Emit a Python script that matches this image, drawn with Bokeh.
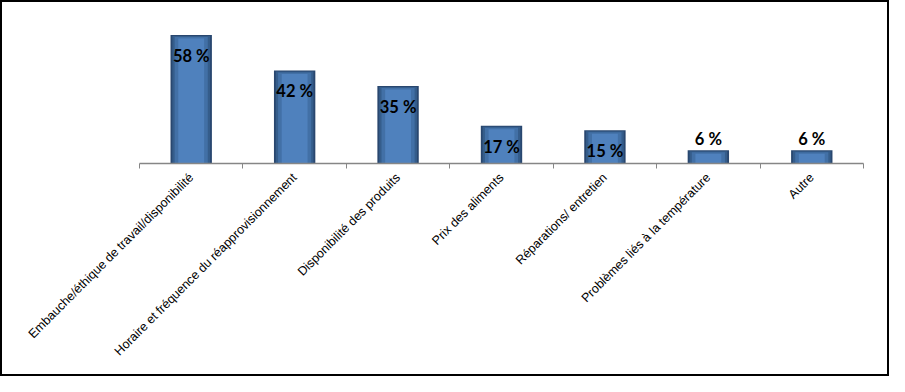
import math
from bokeh.plotting import figure
from bokeh.models import Range1d, FixedTicker, ColumnDataSource
from bokeh.core.properties import value
from bokeh.embed import file_html
from bokeh.resources import INLINE

categories = [
    "Embauche/éthique de travail/disponibilité",
    "Horaire et fréquence du réapprovisionnement",
    "Disponibilité des produits",
    "Prix des aliments",
    "Réparations/ entretien",
    "Problèmes liés à la température",
    "Autre",
]
values = [58, 42, 35, 17, 15, 6, 6]
value_labels = ["58 %", "42 %", "35 %", "17 %", "15 %", "6 %", "6 %"]

n = len(categories)
xs = [i + 0.5 for i in range(n)]

p = figure(width=889, height=376, output_backend="svg", toolbar_location=None,
           x_range=Range1d(0, n), y_range=Range1d(0, 60),
           min_border_left=137, min_border_right=28, min_border_top=28,
           min_border_bottom=215)
p.outline_line_color = None
p.grid.visible = False
p.yaxis.visible = False
p.background_fill_color = "white"
p.border_fill_color = "white"
p.styles = {"border": "2px solid black", "box-sizing": "border-box"}

# Bars with darker edges, lighter centre
px = 60 / 133.0
layers = [(0.40, 0.0, "#29476f"), (0.365, 1.0, "#355d8b"), (0.32, 2.0, "#4270a6"), (0.25, 3.5, "#4f81bd")]
for w, d, c in layers:
    tops = [max(v - d * px, 0) for v in values]
    p.vbar(x=xs, top=tops, bottom=0, width=w, fill_color=c, line_color=None)

# Value labels
offsets = [21 if v > 10 else -11 for v in values]
src = ColumnDataSource(dict(x=xs, y=values, t=value_labels, off=offsets))
p.text(x="x", y="y", text="t", y_offset="off", source=src,
       text_font=value("Lato"), text_font_style="bold", text_font_size="16.5px",
       text_color="black", text_align="center", text_baseline="middle")

ax = p.xaxis[0]
ax.ticker = FixedTicker(ticks=xs, minor_ticks=list(range(n + 1)))
ax.major_label_overrides = {x: c for x, c in zip(xs, categories)}
ax.major_label_orientation = math.pi / 4
ax.major_label_text_font = "Liberation Sans"
ax.major_label_text_font_size = "12.5px"
ax.major_label_text_color = "#000000"
ax.major_label_standoff = 6
ax.major_tick_line_color = None
ax.minor_tick_line_color = "#868686"
ax.minor_tick_out = 5
ax.minor_tick_in = 0
ax.axis_line_color = "#868686"
ax.axis_line_width = 1.5

open("out.html", "w").write(file_html(p, INLINE))
